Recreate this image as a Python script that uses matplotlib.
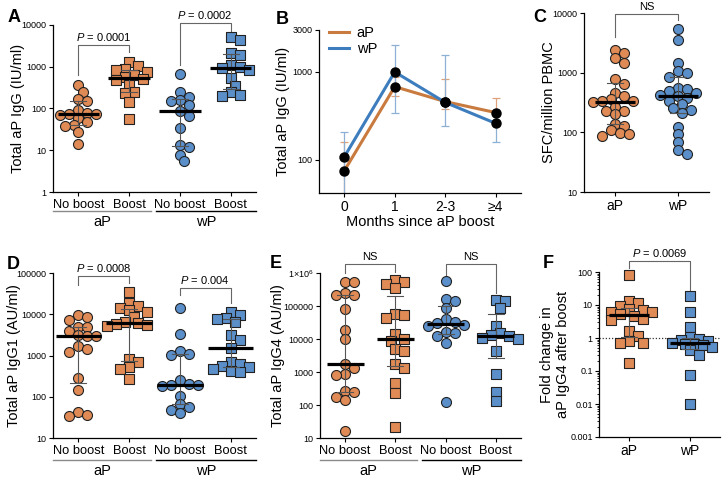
import matplotlib
matplotlib.use("Agg")
import matplotlib.pyplot as plt
import numpy as np
from matplotlib.ticker import NullLocator, LogLocator, NullFormatter

plt.rcParams["font.family"] = ["Liberation Sans", "DejaVu Sans"]
plt.rcParams["mathtext.fontset"] = "custom"
plt.rcParams["mathtext.rm"] = "Liberation Sans"
plt.rcParams["mathtext.it"] = "Liberation Sans:italic"
plt.rcParams["axes.linewidth"] = 0.9

W, H = 728, 494
ORANGE = "#e08a55"
BLUE = "#5b8fca"

# ---- A: total aP IgG (IU/ml) ----
a_ap_noboost = [370, 245, 170, 150, 92, 76, 74, 72, 70, 60, 48, 40, 38, 28, 14]
a_ap_boost = [1320, 1050, 880, 830, 760, 650, 580, 500, 480, 370, 250, 230, 145, 55]
a_wp_noboost = [660, 250, 185, 160, 150, 120, 85, 66, 34, 13.5, 12, 7.8, 5.4]
a_wp_boost = [5100, 4400, 2170, 1900, 1100, 1000, 940, 830, 525, 355, 245, 210, 200]

# ---- B: kinetics after boost ----
b_months = ["0", "1", "2-3", "≥4"]
b_ap = [75, 680, 460, 345]
b_ap_lo = [35, 535, 375, 250]
b_ap_hi = [160, 870, 830, 500]
b_wp = [108, 1000, 450, 260]
b_wp_lo = [30, 340, 240, 160]
b_wp_hi = [205, 2000, 1540, 330]

# ---- C: SFC/million PBMC ----
c_ap = [2400, 2100, 1750, 1450, 780, 650, 460, 400, 360, 340, 330, 320, 270, 230,
        230, 200, 140, 130, 110, 98, 95, 88]
c_wp = [5300, 3500, 1450, 1050, 1000, 850, 560, 530, 500, 460, 430, 400, 380, 330,
        300, 260, 240, 210, 125, 92, 68, 50, 44]

# ---- D: total aP IgG1 (AU/ml) ----
d_ap_noboost = [9800, 8500, 7300, 4900, 4900, 4000, 3200, 3000, 2900, 1700, 1400, 1250,
                290, 145, 43, 36, 34]
d_ap_boost = [34000, 19000, 15500, 14500, 12500, 11500, 8500, 6500, 6000, 5700, 5500,
              5200, 830, 680, 520, 480, 265]
d_wp_noboost = [14000, 3400, 1300, 1100, 1050, 250, 200, 190, 190, 185, 105, 65, 55, 48, 40]
d_wp_boost = [11500, 9500, 8000, 7500, 6500, 3200, 2400, 1500, 700, 620, 560, 520, 470,
              430, 400]

# ---- E: total aP IgG4 (AU/ml) ----
e_ap_noboost = [550000, 520000, 250000, 220000, 210000, 80000, 19000, 9800, 1800, 1300,
                900, 800, 260, 250, 180, 145, 16]
e_ap_boost = [630000, 520000, 460000, 350000, 57000, 55000, 43000, 14000, 9700, 8700,
              4900, 4200, 1800, 1300, 480, 225, 21]
e_wp_noboost = [560000, 160000, 140000, 90000, 40000, 33000, 30000, 27000, 25000, 16000,
                15000, 12000, 7500, 120]
e_wp_boost = [150000, 145000, 90000, 25000, 15000, 13000, 12000, 11000, 10000, 4300, 870,
              250, 130]

# ---- F: fold change in aP IgG4 after boost ----
f_ap = [83, 13.5, 11.5, 9.4, 7.4, 7.1, 6.3, 6.0, 5.2, 4.5, 3.8, 3.6, 1.66, 1.15, 0.81,
        0.69, 0.69, 0.17]
f_wp = [19, 6.3, 2.2, 1.05, 0.95, 0.85, 0.80, 0.72, 0.68, 0.66, 0.62, 0.55, 0.43, 0.30,
        0.074, 0.0098]

groups4 = ["No boost", "Boost", "No boost", "Boost"]
groups2 = ["aP", "wP"]


def px_axes(fig, left, top, right, bottom):
    return fig.add_axes([left / W, 1 - bottom / H, (right - left) / W, (bottom - top) / H])


def style(ax, ylim, ticks, labels, ylabel, label_px):
    ax.set_yscale("log")
    ax.set_ylim(*ylim)
    ax.set_yticks(ticks, labels=labels)
    ax.yaxis.set_minor_locator(NullLocator())
    ax.spines[["top", "right"]].set_visible(False)
    ax.tick_params(axis="y", labelsize=6.5, length=3, width=0.8, pad=1.5)
    ax.tick_params(axis="x", labelsize=9.3, length=3, width=0.8, pad=2)
    ax.set_ylabel(ylabel, fontsize=10.5, va="center")
    ax.yaxis.set_label_coords(-label_px / ax.bbox.width, 0.5)


def swarm(ax, x0, values, marker, color, d_px=10):
    # deterministic beeswarm: spread points sideways until they stop overlapping much
    vals = np.asarray(values, float)
    ypix = ax.transData.transform(np.column_stack([np.zeros(len(vals)), vals]))[:, 1]
    unit = ax.transData.transform((1, 1))[0] - ax.transData.transform((0, 1))[0]
    offs = np.zeros(len(vals))
    placed = []
    step = d_px * 0.45
    min_d = 0.75 * d_px
    cands = [0.0]
    for m in range(1, 6):
        cands += [m * step, -m * step]
    for i in np.argsort(-vals):
        best, best_gap = 0.0, -1.0
        for cand in cands:
            gap = min([np.hypot(cand - px, ypix[i] - py) for px, py in placed] + [1e9])
            if gap >= min_d:
                best = cand
                break
            if gap > best_gap:
                best, best_gap = cand, gap
        placed.append((best, ypix[i]))
        offs[i] = best / unit
    ax.scatter(x0 + offs, vals, s=(d_px * 0.72) ** 2, marker=marker, facecolor=color,
               edgecolor="#222222", linewidth=0.8, zorder=3, clip_on=False)


def summary(ax, x0, values, half_w, cap_w):
    med = np.median(values)
    q1, q3 = np.percentile(values, [25, 75], method="weibull")
    kw = dict(color="#555555", lw=0.8, zorder=4)
    ax.plot([x0, x0], [q1, q3], **kw)
    ax.plot([x0 - cap_w, x0 + cap_w], [q1, q1], **kw)
    ax.plot([x0 - cap_w, x0 + cap_w], [q3, q3], **kw)
    ax.plot([x0 - half_w, x0 + half_w], [med, med], color="black", lw=2.3, zorder=5,
            solid_capstyle="butt")


def bracket(ax, x1, x2, top, leg1, leg2, label):
    tr = ax.get_xaxis_transform()
    ax.plot([x1, x1, x2, x2], [leg1, top, top, leg2], transform=tr, color="#666666",
            lw=0.8, clip_on=False)
    ax.annotate(label, xy=((x1 + x2) / 2, top), xycoords=tr, xytext=(0, 1.5),
                textcoords="offset points", ha="center", va="bottom", fontsize=8)


def group_lines(ax, line_px, label_px):
    h = ax.bbox.height
    tr = ax.get_xaxis_transform()
    for xa, xb, name, col in [(-0.5, 1.43, "aP", "#8a8a8a"), (1.53, 3.5, "wP", "black")]:
        ax.plot([xa, xb], [-line_px / h] * 2, transform=tr, color=col, lw=1.0, clip_on=False)
        ax.text((xa + xb) / 2, -label_px / h, name, transform=tr, ha="center",
                va="center", fontsize=10.5)


def four_group_panel(ax, data, ylim, ticks, labels, ylabel, label_px, half_w):
    ax.set_xlim(-0.5, 3.5)
    style(ax, ylim, ticks, labels, ylabel, label_px)
    ax.set_xticks(range(4), labels=groups4)
    colors = [ORANGE, ORANGE, BLUE, BLUE]
    markers = ["o", "s", "o", "s"]
    for i, vals in enumerate(data):
        swarm(ax, i, vals, markers[i], colors[i])
        summary(ax, i, vals, half_w, 0.16)


fig = plt.figure(figsize=(W / 100, H / 100), dpi=100)

# A
axA = px_axes(fig, 53, 25, 256, 192)
four_group_panel(axA, [a_ap_noboost, a_ap_boost, a_wp_noboost, a_wp_boost], (1, 10000),
                 [1, 10, 100, 1000, 10000], ["1", "10", "100", "1000", "10000"],
                 "Total aP IgG (IU/ml)", 35, 0.41)
group_lines(axA, 19, 30)
bracket(axA, 0, 1, 0.88, 0.70, 0.84, r"$P$ = 0.0001")
bracket(axA, 2, 3, 1.012, 0.76, 0.958, r"$P$ = 0.0002")

# B
axB = px_axes(fig, 319, 30, 521, 193)
axB.set_yscale("log")
axB.set_ylim(42, 3000)
axB.set_xlim(-0.5, 3.5)
x = np.arange(len(b_months))
for vals, lo, hi, col, ecol, name in [(b_ap, b_ap_lo, b_ap_hi, "#c97a3e", "#dda27c", "aP"),
                                       (b_wp, b_wp_lo, b_wp_hi, "#3d7dbd", "#8db0d4", "wP")]:
    v = np.asarray(vals, float)
    axB.errorbar(x, v, yerr=[v - np.asarray(lo), np.asarray(hi) - v], fmt="none",
                 ecolor=ecol, elinewidth=0.9, capsize=3, capthick=0.9, zorder=2)
    axB.plot(x, v, color=col, lw=2.2, label=name, zorder=3)
for vals in (b_ap, b_wp):
    axB.plot(x, vals, "o", color="black", ms=6.5, zorder=4)
axB.set_yticks([100, 1000, 3000], labels=["100", "1000", "3000"])
axB.yaxis.set_minor_locator(NullLocator())
axB.set_xticks(x, labels=b_months)
axB.spines[["top", "right"]].set_visible(False)
axB.tick_params(axis="y", labelsize=6.5, length=3, width=0.8, pad=1.5)
axB.tick_params(axis="x", labelsize=10, length=3, width=0.8, pad=2)
axB.set_ylabel("Total aP IgG (IU/ml)", fontsize=10.5, va="center")
axB.yaxis.set_label_coords(-36 / axB.bbox.width, 0.5)
axB.set_xlabel("Months since aP boost", fontsize=10.5, va="center")
axB.xaxis.set_label_coords(0.5, -29 / axB.bbox.height)
axB.legend(loc="upper left", bbox_to_anchor=(0.02, 1.06), frameon=False, fontsize=10.5,
           handlelength=1.4, handletextpad=0.5, labelspacing=0.15, borderaxespad=0)

# C
axC = px_axes(fig, 584, 13, 709, 192)
axC.set_xlim(-0.5, 1.5)
style(axC, (10, 10000), [10, 100, 1000, 10000], ["10", "100", "1000", "10000"],
      "SFC/million PBMC", 35)
axC.set_xticks([0, 1], labels=groups2)
axC.tick_params(axis="x", labelsize=10)
for i, (vals, col) in enumerate([(c_ap, ORANGE), (c_wp, BLUE)]):
    swarm(axC, i, vals, "o", col)
    summary(axC, i, vals, 0.32, 0.13)
bracket(axC, 0, 1, 0.994, 0.866, 0.961, "NS")

# D
axD = px_axes(fig, 53, 273, 256, 438)
four_group_panel(axD, [d_ap_noboost, d_ap_boost, d_wp_noboost, d_wp_boost], (10, 100000),
                 [10, 100, 1000, 10000, 100000], ["10", "100", "1000", "10000", "100000"],
                 "Total aP IgG1 (AU/ml)", 39, 0.45)
group_lines(axD, 22, 33)
bracket(axD, 0, 1, 0.982, 0.927, 0.939, r"$P$ = 0.0008")
bracket(axD, 2, 3, 0.909, 0.867, 0.818, r"$P$ = 0.004")

# E
axE = px_axes(fig, 320, 273, 521, 438)
four_group_panel(axE, [e_ap_noboost, e_ap_boost, e_wp_noboost, e_wp_boost], (10, 1e6),
                 [10, 100, 1000, 10000, 100000, 1e6],
                 ["10", "100", "1000", "10000", "100000", "1×10$^6$"],
                 "Total aP IgG4 (AU/ml)", 42, 0.37)
group_lines(axE, 22, 33)
bracket(axE, 0, 1, 1.055, 1.0, 1.006, "NS")
bracket(axE, 2, 3, 1.055, 0.988, 0.879, "NS")

# F
axF = px_axes(fig, 599, 272, 720, 437)
axF.set_xlim(-0.5, 1.5)
style(axF, (0.001, 100), [0.001, 0.01, 0.1, 1, 10, 100],
      ["0.001", "0.01", "0.1", "1", "10", "100"],
      "Fold change in\naP IgG4 after boost", 44)
axF.yaxis.set_minor_locator(LogLocator(base=10, subs=np.arange(2, 10)))
axF.yaxis.set_minor_formatter(NullFormatter())
axF.tick_params(axis="y", which="minor", length=1.5, width=0.6)
axF.set_xticks([0, 1], labels=groups2)
axF.tick_params(axis="x", labelsize=10)
axF.axhline(1, color="#333333", lw=0.9, ls=(0, (1, 1.5)), zorder=1)
for i, (vals, col) in enumerate([(f_ap, ORANGE), (f_wp, BLUE)]):
    swarm(axF, i, vals, "s", col)
    summary(axF, i, vals, 0.33, 0.13)
bracket(axF, 0, 1, 1.068, 1.024, 0.891, r"$P$ = 0.0069")

# panel letters
for letter, lx, ly in [("A", 8, 9), ("B", 276, 11), ("C", 533, 9),
                       ("D", 7, 256), ("E", 270, 255), ("F", 543, 255)]:
    fig.text(lx / W, 1 - ly / H, letter, fontsize=13, fontweight="bold", ha="left", va="top")

fig.savefig("out.png", dpi=100)
